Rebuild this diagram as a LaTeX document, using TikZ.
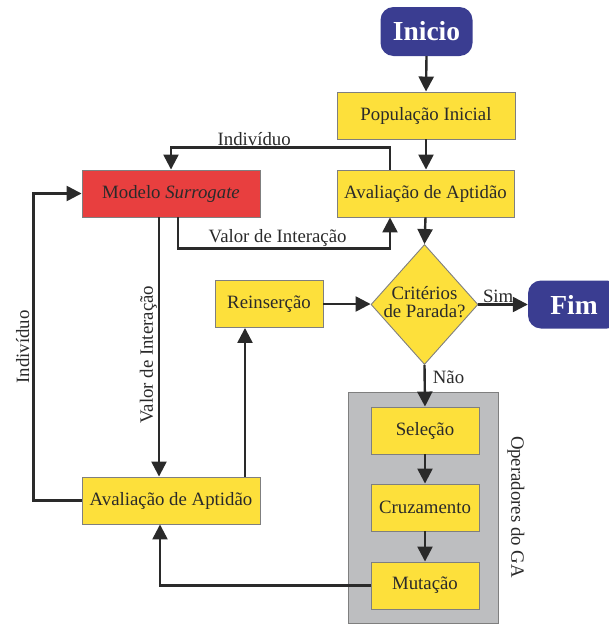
\documentclass[tikz,border=0pt]{standalone}
\usepackage{fontspec}
\setmainfont{Liberation Serif}
\usetikzlibrary{arrows.meta,shapes.geometric}
\definecolor{boxyellow}{HTML}{FDE03B}
\definecolor{boxred}{HTML}{E83F3F}
\definecolor{boxblue}{HTML}{3A3D91}
\definecolor{panelgray}{HTML}{BDBEC0}
\definecolor{edgegray}{HTML}{7F7F7F}
\definecolor{inkgray}{HTML}{2A2A2A}
\tikzset{
  txt/.style={font=\fontsize{18.8}{20}\selectfont, text=inkgray},
  ybox/.style={txt, draw=edgegray, line width=0.9pt, fill=boxyellow,
    minimum height=47pt, inner sep=0pt},
  rbox/.style={ybox, fill=boxred},
  term/.style={draw=none, fill=boxblue, rounded corners=13pt, inner sep=0pt,
    text=white, font=\fontsize{27.5}{30}\selectfont\bfseries},
  arr/.style={draw=inkgray, line width=2.4pt,
    -{Triangle[width=15pt,length=15pt]}},
  lbl/.style={txt, inner sep=1pt},
}
\begin{document}
\begin{tikzpicture}[x=1pt, y=-1pt]
\useasboundingbox (0,0) rectangle (609,624);
\begin{scope}
\clip (0,0) rectangle (609,624);
% GA operators panel
\node[draw=edgegray, line width=0.8pt, fill=panelgray, minimum width=150pt,
  minimum height=231pt, inner sep=0pt] (panel) at (423,507.5) {};
\node[txt, rotate=-90] (paneltxt) at (516,507) {Operadores do GA};

% terminals
\node[term, minimum width=92pt, minimum height=49pt] (ini) at (426.5,31.5) {Inicio};
\node[term, minimum width=92pt, minimum height=48pt] (fim) at (574,304.5) {Fim};

% process boxes
\node[ybox, minimum width=178pt] (pop) at (426,115.5) {População Inicial};
\node[ybox, minimum width=177pt] (aval1) at (425.5,193.5) {Avaliação de Aptidão};
\node[rbox, minimum width=178pt] (modelo) at (171,193.5) {Modelo \textit{Surrogate}};
\node[ybox, minimum width=178pt] (aval2) at (171,500.5) {Avaliação de Aptidão};
\node[ybox, minimum width=108pt] (reins) at (269,304) {Reinserção};
\node[ybox, minimum width=108pt] (sel) at (425,430.5) {Seleção};
\node[ybox, minimum width=108pt] (cruz) at (425,507.5) {Cruzamento};
\node[ybox, minimum width=108pt] (mut) at (425,585.5) {Mutação};

% decision
\node[diamond, draw=edgegray, line width=0.9pt, fill=boxyellow, inner sep=0pt,
  minimum width=107pt, minimum height=120pt] (crit) at (424.5,304.5) {};
\node[txt, align=center, inner sep=0pt] (crittxt) at (424.5,302.5)
  {Critérios\\[-2pt]de Parada?};

% main flow
\draw[arr] (ini.south) -- (pop.north);
\draw[arr] (pop.south) -- ([xshift=0.5pt]aval1.north);
\draw[arr] (aval1.south) -- (crit.north);
\draw[arr] (crit.east) -- node[lbl, above, pos=0.4] (simlbl) {Sim} (fim.west);
\draw[arr] (crit.south) -- node[lbl, right, xshift=6pt, pos=0.3] (naolbl) {Não} (sel.north);
\draw[arr] (sel.south) -- (cruz.north);
\draw[arr] (cruz.south) -- (mut.north);
\draw[arr] (reins.east) -- (reins.east -| crit.west);

% surrogate exchange with the first evaluation
\draw[arr] ([xshift=-35.5pt]aval1.north) -- ++(0,-22)
  -| node[lbl, above, pos=0.31] (ind1) {Indivíduo} (modelo.north);
\draw[arr] ([xshift=7pt]modelo.south) -- ++(0,31)
  -| node[lbl, above, pos=0.235] (val1) {Valor de Interação} ([xshift=-35.5pt]aval1.south);

% surrogate exchange with the second evaluation
\draw[arr] ([xshift=-12pt]modelo.south)
  -- node[lbl, rotate=90, anchor=south, pos=0.53] (val2) {Valor de Interação}
  ([xshift=-12pt]aval2.north);
\draw[arr] (aval2.west) -- ++(-48,0)
  |- node[lbl, rotate=90, anchor=south, yshift=2pt, pos=0.25] (ind2) {Indivíduo} (modelo.west);

% return path
\draw[arr] (mut.west) -| ([xshift=-11pt]aval2.south);
\draw[arr] ([xshift=74pt]aval2.north) -- ([xshift=-24pt]reins.south);
\end{scope}
\end{tikzpicture}
\end{document}
